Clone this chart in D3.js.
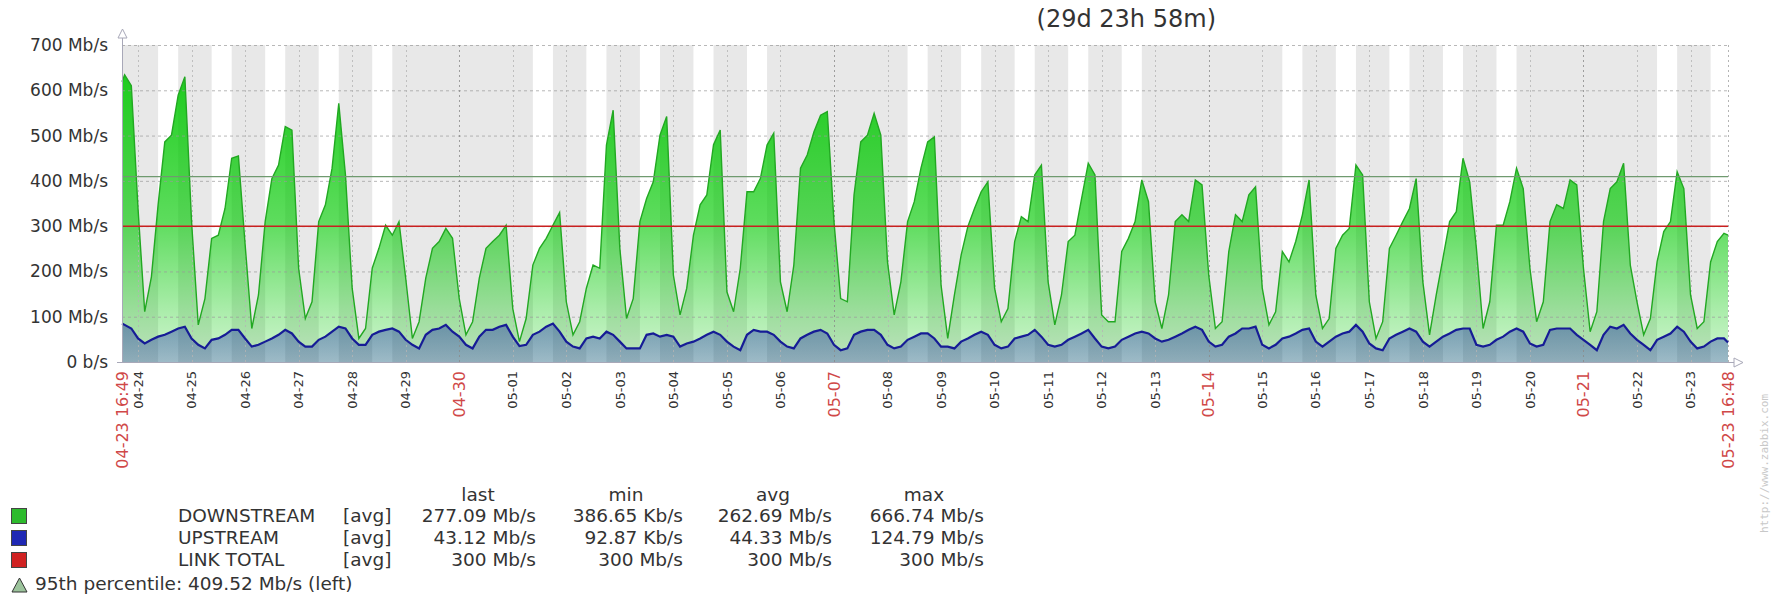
<!DOCTYPE html>
<html>
<head>
<meta charset="utf-8">
<script src="https://cdnjs.cloudflare.com/ajax/libs/d3/7.8.5/d3.min.js"></script>
<style>
  body { margin: 0; background: #fff; }
  svg { display: block; font-family: "DejaVu Sans", sans-serif; }
</style>
</head>
<body>
<div id="graph"></div>
<script>
// period of the graph
var startStamp = "2017-04-23 16:49", endStamp = "2017-05-23 16:48";
var periodLabel = "(29d 23h 58m)";

// one row per day, one value per sample hour (Mb/s)
var sampleHours = [0, 3, 6, 9, 12, 15, 18, 21];
var days = ["04-23","04-24","04-25","04-26","04-27","04-28","04-29","04-30",
            "05-01","05-02","05-03","05-04","05-05","05-06","05-07","05-08",
            "05-09","05-10","05-11","05-12","05-13","05-14","05-15","05-16",
            "05-17","05-18","05-19","05-20","05-21","05-22","05-23"];
var mainDays = ["04-30", "05-07", "05-14", "05-21"];

var downStart = 619, downEnd = 280;
var downstream = [
  [null,null,null,null,null,null,634,610],
  [339,111,188,347,486,501,589,630],
  [310, 82,140,273,280,339,450,455],
  [260, 74,148,310,405,435,520,512],
  [207, 96,133,310,347,428,571,413],
  [163, 52, 74,207,251,302,280,310],
  [185, 52, 89,185,251,266,295,273],
  [140, 60, 89,185,251,266,280,302],
  [118, 45, 96,214,251,273,302,330],
  [133, 60, 89,163,214,207,479,556],
  [251, 96,140,310,361,398,501,542],
  [192,104,163,280,347,369,480,512],
  [155,111,207,376,376,405,479,505],
  [177,111,214,428,457,508,545,553],
  [310,140,133,369,486,501,549,501],
  [221,104,177,310,354,428,486,497],
  [170, 52,148,236,299,339,376,398],
  [163, 89,118,266,321,310,413,435],
  [177, 82,148,266,280,361,439,413],
  [104, 89, 89,244,273,310,402,354],
  [133, 74,148,310,325,310,402,391],
  [192, 74, 89,244,325,310,369,387],
  [163, 82,111,244,221,266,325,402],
  [148, 74, 96,251,280,295,435,413],
  [133, 52, 89,251,280,310,339,405],
  [177, 60,148,229,310,332,450,398],
  [251, 74,133,302,302,354,428,383],
  [207, 89,133,310,347,339,402,391],
  [207, 67,111,310,383,398,439,214],
  [133, 60, 96,221,288,310,420,383],
  [148, 74, 89,221,266,284,null,null]
];

var upStart = 85, upEnd = 43;
var upstream = [
  [null,null,null,null,null,null,82,74],
  [52,41,49,56,60,67,74,78],
  [52,38,30,49,52,60,71,71],
  [52,34,38,45,52,60,71,63],
  [45,34,34,49,56,67,78,74],
  [52,38,38,60,67,71,74,67],
  [49,38,30,60,71,74,82,67],
  [56,38,30,56,71,71,78,82],
  [56,35,38,60,67,78,85,67],
  [45,34,30,52,56,52,67,60],
  [45,30,30,30,60,63,56,60],
  [56,34,41,45,52,60,67,60],
  [45,34,26,60,71,67,67,60],
  [45,34,30,52,60,67,71,63],
  [38,26,30,60,67,71,71,60],
  [38,30,34,49,56,63,63,52],
  [34,34,30,45,52,60,67,60],
  [38,30,34,52,56,60,71,56],
  [38,34,38,49,56,63,71,52],
  [34,30,34,49,56,63,67,63],
  [52,45,49,56,63,71,78,71],
  [45,34,38,56,63,74,74,78],
  [38,30,38,52,56,63,71,74],
  [45,34,45,56,63,67,82,67],
  [41,30,26,52,60,67,74,67],
  [45,34,45,56,63,71,74,74],
  [38,34,38,49,56,67,74,67],
  [41,34,38,71,74,74,74,60],
  [49,38,26,60,78,74,82,63],
  [49,38,26,49,56,63,78,67],
  [45,30,34,45,52,52,null,null]
];

var linkTotal = 300;
var percentile95 = 409.52;

var yTicks = [0, 100, 200, 300, 400, 500, 600, 700];
var yTickLabels = ["0 b/s","100 Mb/s","200 Mb/s","300 Mb/s","400 Mb/s","500 Mb/s","600 Mb/s","700 Mb/s"];

// working time (mon-fri, 09:00-18:00) is left white
var workDays = [1, 2, 3, 4, 5];
var workHours = [9, 18];

// legend table
var legendNames = ["DOWNSTREAM", "UPSTREAM", "LINK TOTAL"];
var legendColors = ["#2dbb2d", "#1f28b4", "#d02222"];
var legendLast = ["277.09 Mb/s", "43.12 Mb/s", "300 Mb/s"];
var legendMin = ["386.65 Kb/s", "92.87 Kb/s", "300 Mb/s"];
var legendAvg = ["262.69 Mb/s", "44.33 Mb/s", "300 Mb/s"];
var legendMax = ["666.74 Mb/s", "124.79 Mb/s", "300 Mb/s"];
var percentileText = "95th percentile: 409.52 Mb/s (left)";

function drawGraph(){

  var W = 1777, H = 594;
  var margin = {top: 45, left: 122, right: 1728, bottom: 362};

  var svg = d3.select("#graph").append("svg")
    .attr("width", W)
    .attr("height", H);

  var parse = d3.timeParse("%Y-%m-%d %H:%M");
  var t0 = parse(startStamp), t1 = parse(endStamp);

  var x = d3.scaleTime().domain([t0, t1]).range([margin.left, margin.right]);
  var y = d3.scaleLinear().domain([0, 700]).range([margin.bottom, margin.top]);

  function dayDate(label, h){
    var p = label.split("-");
    return new Date(t0.getFullYear(), +p[0] - 1, +p[1], h || 0);
  }

  // flatten rows into points
  function buildSeries(rows, first, last){
    var pts = [{t: t0, v: first}];
    rows.forEach(function(row, i){
      row.forEach(function(v, j){
        if (v !== null) pts.push({t: dayDate(days[i], sampleHours[j]), v: v});
      });
    });
    pts.push({t: t1, v: last});
    return pts;
  }
  var down = buildSeries(downstream, downStart, downEnd);
  var up = buildSeries(upstream, upStart, upEnd);

  // gradients
  var defs = svg.append("defs");
  function gradient(id, rgb, stops){
    var g = defs.append("linearGradient").attr("id", id)
      .attr("gradientUnits", "userSpaceOnUse")
      .attr("x1", 0).attr("x2", 0)
      .attr("y1", margin.top).attr("y2", margin.bottom);
    stops.forEach(function(s){
      g.append("stop").attr("offset", s[0]).attr("stop-color", rgb).attr("stop-opacity", s[1]);
    });
  }
  gradient("gGreen", "rgb(0,200,0)", [[0, 0.92], [0.55, 0.64], [0.85, 0.32], [1, 0.18]]);
  gradient("gBlue", "rgb(10,20,170)", [[0, 0.9], [0.55, 0.6], [0.85, 0.4], [1, 0.26]]);

  // non-working time background
  svg.append("rect")
    .attr("x", margin.left).attr("y", margin.top)
    .attr("width", margin.right - margin.left)
    .attr("height", margin.bottom - margin.top)
    .style("fill", "#e8e8e8");

  var bands = [];
  days.forEach(function(d){
    var a = dayDate(d, workHours[0]), b = dayDate(d, workHours[1]);
    if (workDays.indexOf(a.getDay()) < 0) return;
    if (a < t0) a = t0;
    if (b > t1) b = t1;
    if (b > a) bands.push([a, b]);
  });
  svg.selectAll(".work").data(bands).enter().append("rect")
    .attr("class", "work")
    .attr("x", function(d){ return x(d[0]); })
    .attr("y", margin.top)
    .attr("width", function(d){ return x(d[1]) - x(d[0]); })
    .attr("height", margin.bottom - margin.top)
    .style("fill", "#ffffff");

  // areas
  var area = d3.area()
    .x(function(d){ return x(d.t); })
    .y0(y(0))
    .y1(function(d){ return y(d.v); });
  var line = d3.line()
    .x(function(d){ return x(d.t); })
    .y(function(d){ return y(d.v); });

  svg.append("path").datum(down).attr("d", area).style("fill", "url(#gGreen)");
  svg.append("path").datum(up).attr("d", area).style("fill", "url(#gBlue)");

  // grid
  var grid = svg.append("g");
  grid.selectAll(".hgrid").data(yTicks.slice(1)).enter().append("line")
    .attr("x1", margin.left).attr("x2", margin.right)
    .attr("y1", function(d){ return y(d) + 0.5; })
    .attr("y2", function(d){ return y(d) + 0.5; })
    .style("stroke", "#9a9a9a").style("stroke-opacity", 0.7)
    .style("stroke-dasharray", "3,3");

  var dayTicks = days.slice(1).map(function(d){ return {label: d, t: dayDate(d, 0), main: mainDays.indexOf(d) >= 0}; });
  grid.selectAll(".vgrid").data(dayTicks).enter().append("line")
    .attr("x1", function(d){ return Math.round(x(d.t)) + 0.5; })
    .attr("x2", function(d){ return Math.round(x(d.t)) + 0.5; })
    .attr("y1", margin.top).attr("y2", margin.bottom)
    .style("stroke", function(d){ return d.main ? "#8a8a8a" : "#b4b4b4"; })
    .style("stroke-opacity", 0.8)
    .style("stroke-dasharray", "2,3");
  grid.append("line")
    .attr("x1", margin.right + 0.5).attr("x2", margin.right + 0.5)
    .attr("y1", margin.top).attr("y2", margin.bottom)
    .style("stroke", "#b4b4b4").style("stroke-dasharray", "2,3");

  // series lines
  svg.append("path").datum(down).attr("d", line)
    .style("fill", "none").style("stroke", "#22a822").style("stroke-width", 1.4);
  svg.append("path").datum(up).attr("d", line)
    .style("fill", "none").style("stroke", "#161c96").style("stroke-width", 2.2);

  // link total and percentile
  svg.append("line")
    .attr("x1", margin.left).attr("x2", margin.right)
    .attr("y1", y(linkTotal)).attr("y2", y(linkTotal))
    .style("stroke", "#c82020").style("stroke-width", 1.5);
  svg.append("line")
    .attr("x1", margin.left).attr("x2", margin.right)
    .attr("y1", y(percentile95)).attr("y2", y(percentile95))
    .style("stroke", "#6f9a6f").style("stroke-width", 1.2);

  // axes
  svg.append("line")
    .attr("x1", margin.left + 0.5).attr("x2", margin.left + 0.5)
    .attr("y1", margin.bottom).attr("y2", 37)
    .style("stroke", "#a8a8b8");
  svg.append("path")
    .attr("d", "M" + (margin.left - 4) + ",38 L" + (margin.left + 0.5) + ",29 L" + (margin.left + 5) + ",38 Z")
    .style("fill", "#fff").style("stroke", "#a8a8b8");
  svg.append("line")
    .attr("x1", margin.left).attr("x2", 1734)
    .attr("y1", margin.bottom + 0.5).attr("y2", margin.bottom + 0.5)
    .style("stroke", "#a8a8b8");
  svg.append("path")
    .attr("d", "M1734," + (margin.bottom - 4) + " L1743," + (margin.bottom + 0.5) + " L1734," + (margin.bottom + 5) + " Z")
    .style("fill", "#fff").style("stroke", "#a8a8b8");

  // y labels
  svg.selectAll(".ylab").data(yTicks).enter().append("text")
    .attr("x", 108)
    .attr("y", function(d){ return y(d) + 6; })
    .attr("text-anchor", "end")
    .style("font-size", "17px")
    .style("fill", "#333")
    .text(function(d, i){ return yTickLabels[i]; });
  svg.append("line")
    .attr("x1", margin.left - 5).attr("x2", margin.left)
    .attr("y1", margin.bottom + 0.5).attr("y2", margin.bottom + 0.5)
    .style("stroke", "#a8a8b8");

  // x labels
  var fmtEdge = d3.timeFormat("%m-%d %H:%M");
  var xLabels = dayTicks.map(function(d){ return {t: d.t, text: d.label, main: d.main}; });
  xLabels.unshift({t: t0, text: fmtEdge(t0), main: true});
  xLabels.push({t: t1, text: fmtEdge(t1), main: true});

  svg.selectAll(".xlab").data(xLabels).enter().append("text")
    .attr("transform", function(d){ return "translate(" + x(d.t) + ",371) rotate(-90)"; })
    .attr("text-anchor", "end")
    .attr("dy", "0.36em")
    .style("font-size", function(d){ return d.main ? "16px" : "13px"; })
    .style("fill", function(d){ return d.main ? "#d04848" : "#333"; })
    .text(function(d){ return d.text; });

  // period label
  svg.append("text")
    .attr("x", 1216).attr("y", 27)
    .attr("text-anchor", "end")
    .style("font-size", "24px")
    .style("fill", "#333")
    .text(periodLabel);

  // watermark
  svg.append("text")
    .attr("transform", "translate(1768,533) rotate(-90)")
    .style("font-size", "11px")
    .style("font-family", "DejaVu Sans Mono, monospace")
    .style("fill", "#c8c8c8")
    .text("http://www.zabbix.com");

  // legend
  var legend = svg.append("g").style("font-size", "18.5px").style("fill", "#333");
  var colRight = [536, 683, 832, 984];
  var colMid = [478, 626, 773, 924];
  ["last", "min", "avg", "max"].forEach(function(h, i){
    legend.append("text").attr("x", colMid[i]).attr("y", 501)
      .attr("text-anchor", "middle").text(h);
  });
  legendNames.forEach(function(name, i){
    var by = 522 + i * 22;
    legend.append("rect")
      .attr("x", 11.5).attr("y", by - 13.5)
      .attr("width", 15).attr("height", 15)
      .style("fill", legendColors[i]).style("stroke", "#444");
    legend.append("text").attr("x", 178).attr("y", by).text(name);
    legend.append("text").attr("x", 343).attr("y", by).text("[avg]");
    [legendLast, legendMin, legendAvg, legendMax].forEach(function(col, j){
      legend.append("text").attr("x", colRight[j]).attr("y", by)
        .attr("text-anchor", "end").text(col[i]);
    });
  });
  legend.append("path")
    .attr("d", "M12,592 L19.5,578 L27,592 Z")
    .style("fill", "#9cc49c").style("stroke", "#333");
  legend.append("text").attr("x", 35).attr("y", 590).text(percentileText);
}

drawGraph();
</script>
</body>
</html>
